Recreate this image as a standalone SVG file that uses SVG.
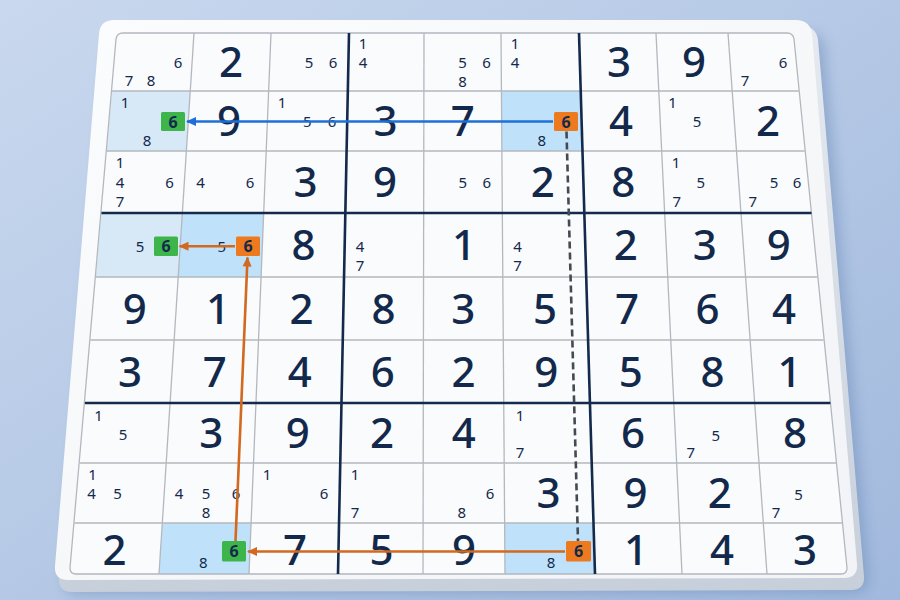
<svg xmlns="http://www.w3.org/2000/svg" width="900" height="600" viewBox="0 0 900 600">
<defs>
<linearGradient id="bg" x1="0" y1="0" x2="1" y2="1">
<stop offset="0" stop-color="#c9d8ee"/>
<stop offset="1" stop-color="#a1b9dd"/>
</linearGradient>
<linearGradient id="face" x1="0" y1="0" x2="0" y2="1">
<stop offset="0" stop-color="#e6eaf0"/>
<stop offset="1" stop-color="#c7cfda"/>
</linearGradient>
<linearGradient id="surf" x1="0" y1="0" x2="1" y2="1">
<stop offset="0" stop-color="#fbfcfd"/>
<stop offset="1" stop-color="#f1f3f6"/>
</linearGradient>
<filter id="blur" x="-10%" y="-10%" width="120%" height="120%"><feGaussianBlur stdDeviation="7"/></filter>
<marker id="ab" viewBox="0 0 10 10" refX="9" refY="5" markerWidth="11" markerHeight="10" markerUnits="userSpaceOnUse" orient="auto"><path d="M0,0.5 L10,5 L0,9.5 z" fill="#1e6fd8"/></marker>
<marker id="ao" viewBox="0 0 10 10" refX="9" refY="5" markerWidth="11" markerHeight="10" markerUnits="userSpaceOnUse" orient="auto"><path d="M0,0.5 L10,5 L0,9.5 z" fill="#d2691e"/></marker>
<style>
text{font-family:"Noto Sans","DejaVu Sans",sans-serif;fill:#13294b;text-anchor:middle}
.g{font-size:42px;font-weight:500}
.c{font-size:15px;font-weight:400}
.b{font-size:16px;font-weight:700}
.thin{stroke:#b3b8bf;stroke-width:1.3;fill:none}
.thick{stroke:#142a4c;stroke-width:2.6;fill:none}
.hl{fill:#bfe2fa}
.hl2{fill:#d7e8f7}
.gr{fill:#3db54a}
.or{fill:#ee7a1f}
.ob{stroke:#d2691e;stroke-width:2.6;fill:none}
</style>
</defs>
<rect x="0" y="0" width="900" height="600" fill="url(#bg)"/>
<g id="board">
<path d="M 124,34 L 808,34 Q 822,34 824,48 L 868,578 Q 869,592 855,592 L 78,594 Q 64,594 65,580 L 109,48 Q 110,34 124,34 Z" fill="#5f7fae" opacity="0.45" filter="url(#blur)"/>
<path d="M 118,26 L 802,26 Q 816,26 818,40 L 864,576 Q 865,590 851,590 L 72,592 Q 58,592 59,578 L 103,40 Q 104,26 118,26 Z" fill="url(#face)"/>
<path d="M 114,20 L 796,20 Q 810,20 812,34 L 857,564 Q 858,578 844,578 L 68,580 Q 54,580 55,566 L 99,34 Q 100,20 114,20 Z" fill="url(#surf)"/>
</g>
<g id="grid">
<path d="M 123,33 L 787,33 Q 793,33 794,39 L 847,568 Q 847,574 841,574 L 76,574 Q 70,574 70,568 L 116,39 Q 117,33 123,33 Z" fill="#fafbfc"/>
<polygon class="hl2" points="112,91 190.2,91 186.4,151 106.7,151"/>
<polygon class="hl" points="501.4,91 580.7,91 582.5,151 501.9,151"/>
<polygon class="hl2" points="101.4,213 182.4,213 178.2,277 95.8,277"/>
<polygon class="hl" points="182.4,213 263.7,213 261.1,277 178.2,277"/>
<polygon class="hl" points="162.3,523 251.1,523 249,574 159,574"/>
<polygon class="hl" points="504.6,523 593.5,523 595,574 505,574"/>
<line class="thin" x1="194" y1="33" x2="159" y2="574"/>
<line class="thin" x1="271" y1="33" x2="249" y2="574"/>
<line class="thin" x1="424" y1="33" x2="423" y2="574"/>
<line class="thin" x1="501" y1="33" x2="505" y2="574"/>
<line class="thin" x1="656" y1="33" x2="682" y2="574"/>
<line class="thin" x1="728" y1="33" x2="767" y2="574"/>
<line class="thin" x1="112" y1="91" x2="798.8" y2="91"/>
<line class="thin" x1="106.7" y1="151" x2="804.8" y2="151"/>
<line class="thin" x1="95.8" y1="277" x2="817.4" y2="277"/>
<line class="thin" x1="90.3" y1="340" x2="823.6" y2="340"/>
<line class="thin" x1="79.6" y1="463" x2="835.9" y2="463"/>
<line class="thin" x1="74.4" y1="523" x2="841.9" y2="523"/>
<path class="thin" d="M 123,33 L 787,33 Q 793,33 794,39 L 847,568 Q 847,574 841,574 L 76,574 Q 70,574 70,568 L 116,39 Q 117,33 123,33 Z"/>
<line class="thick" x1="349" y1="33" x2="338" y2="574"/>
<line class="thick" x1="579" y1="33" x2="595" y2="574"/>
<line class="thick" x1="101.4" y1="213" x2="811.5" y2="213"/>
<line class="thick" x1="84.9" y1="403" x2="830.4" y2="403"/>
</g>
<g id="r1c1"><text class="c" x="178" y="67.5">6</text><text class="c" x="129" y="86">7</text><text class="c" x="151" y="86">8</text></g>
<g id="r1c2"><text class="g" x="231" y="77">2</text></g>
<g id="r1c3"><text class="c" x="309" y="67.5">5</text><text class="c" x="333" y="67.5">6</text></g>
<g id="r1c4"><text class="c" x="363" y="48.5">1</text><text class="c" x="363" y="68">4</text></g>
<g id="r1c5"><text class="c" x="462.6" y="67.5">5</text><text class="c" x="486.6" y="67.5">6</text><text class="c" x="462.6" y="86.8">8</text></g>
<g id="r1c6"><text class="c" x="515" y="48.5">1</text><text class="c" x="515" y="68">4</text></g>
<g id="r1c7"><text class="g" x="619" y="77">3</text></g>
<g id="r1c8"><text class="g" x="694" y="77">9</text></g>
<g id="r1c9"><text class="c" x="783" y="67.5">6</text><text class="c" x="745" y="86">7</text></g>
<g id="r2c1"><text class="c" x="125" y="108">1</text><text class="c" x="147" y="145.5">8</text></g>
<g id="r2c2"><text class="g" x="229" y="136">9</text></g>
<g id="r2c3"><text class="c" x="282" y="108">1</text><text class="c" x="307.3" y="127">5</text><text class="c" x="332" y="127">6</text></g>
<g id="r2c4"><text class="g" x="385.5" y="136">3</text></g>
<g id="r2c5"><text class="g" x="462.8" y="136">7</text></g>
<g id="r2c6"><text class="c" x="541.7" y="145.5">8</text></g>
<g id="r2c7"><text class="g" x="620.9" y="136">4</text></g>
<g id="r2c8"><text class="c" x="672.5" y="108">1</text><text class="c" x="697" y="127">5</text></g>
<g id="r2c9"><text class="g" x="768" y="136">2</text></g>
<g id="r3c1"><text class="c" x="120" y="168.3">1</text><text class="c" x="120" y="187.5">4</text><text class="c" x="120" y="206.7">7</text><text class="c" x="169.5" y="187.5">6</text></g>
<g id="r3c2"><text class="c" x="200.5" y="187.5">4</text><text class="c" x="250" y="187.5">6</text></g>
<g id="r3c3"><text class="g" x="305.5" y="197">3</text></g>
<g id="r3c4"><text class="g" x="384.9" y="197">9</text></g>
<g id="r3c5"><text class="c" x="462.8" y="187.5">5</text><text class="c" x="486.8" y="187.5">6</text></g>
<g id="r3c6"><text class="g" x="542.8" y="197">2</text></g>
<g id="r3c7"><text class="g" x="623.3" y="197">8</text></g>
<g id="r3c8"><text class="c" x="676" y="168.3">1</text><text class="c" x="700.8" y="187.5">5</text><text class="c" x="676.8" y="206.7">7</text></g>
<g id="r3c9"><text class="c" x="774" y="187.5">5</text><text class="c" x="797" y="187.5">6</text><text class="c" x="752.7" y="206.7">7</text></g>
<g id="r4c1"><text class="c" x="140" y="252">5</text></g>
<g id="r4c2"><text class="c" x="221.7" y="252">5</text></g>
<g id="r4c3"><text class="g" x="303.6" y="260">8</text></g>
<g id="r4c4"><text class="c" x="360" y="251.5">4</text><text class="c" x="360" y="270.5">7</text></g>
<g id="r4c5"><text class="g" x="464" y="260">1</text></g>
<g id="r4c6"><text class="c" x="517.5" y="251.5">4</text><text class="c" x="517.5" y="270.5">7</text></g>
<g id="r4c7"><text class="g" x="625.8" y="260">2</text></g>
<g id="r4c8"><text class="g" x="704.8" y="260">3</text></g>
<g id="r4c9"><text class="g" x="778.8" y="260">9</text></g>
<g id="r5"><text class="g" x="134.7" y="323.5">9</text><text class="g" x="218" y="323.5">1</text><text class="g" x="301.6" y="323.5">2</text><text class="g" x="383.5" y="323.5">8</text><text class="g" x="463.3" y="323.5">3</text><text class="g" x="545" y="323.5">5</text><text class="g" x="627" y="323.5">7</text><text class="g" x="707.5" y="323.5">6</text><text class="g" x="784" y="323.5">4</text></g>
<g id="r6"><text class="g" x="129.9" y="386.5">3</text><text class="g" x="214.7" y="386.5">7</text><text class="g" x="299.7" y="386.5">4</text><text class="g" x="382.8" y="386.5">6</text><text class="g" x="463.5" y="386.5">2</text><text class="g" x="546.3" y="386.5">9</text><text class="g" x="630.7" y="386.5">5</text><text class="g" x="712.4" y="386.5">8</text><text class="g" x="789.6" y="386.5">1</text></g>
<g id="r7c1"><text class="c" x="98.5" y="420.5">1</text><text class="c" x="123" y="439.5">5</text></g>
<g id="r7c2"><text class="g" x="211.2" y="448">3</text></g>
<g id="r7c3"><text class="g" x="297.8" y="448">9</text></g>
<g id="r7c4"><text class="g" x="382.1" y="448">2</text></g>
<g id="r7c5"><text class="g" x="463.7" y="448">4</text></g>
<g id="r7c6"><text class="c" x="520" y="420.5">1</text><text class="c" x="520" y="458">7</text></g>
<g id="r7c7"><text class="g" x="633" y="448">6</text></g>
<g id="r7c8"><text class="c" x="715.7" y="440.5">5</text><text class="c" x="690.7" y="458">7</text></g>
<g id="r7c9"><text class="g" x="794.9" y="448">8</text></g>
<g id="r8c1"><text class="c" x="92.5" y="479.5">1</text><text class="c" x="91.5" y="498.8">4</text><text class="c" x="117.5" y="498.8">5</text></g>
<g id="r8c2"><text class="c" x="179" y="498.8">4</text><text class="c" x="206" y="498.8">5</text><text class="c" x="236" y="498.8">6</text><text class="c" x="206" y="517.8">8</text></g>
<g id="r8c3"><text class="c" x="267" y="479.5">1</text><text class="c" x="324" y="498.8">6</text></g>
<g id="r8c4"><text class="c" x="355" y="479.5">1</text><text class="c" x="355" y="517.5">7</text></g>
<g id="r8c5"><text class="c" x="490" y="498.8">6</text><text class="c" x="461.7" y="517.5">8</text></g>
<g id="r8c6"><text class="g" x="548.5" y="508">3</text></g>
<g id="r8c7"><text class="g" x="635.4" y="508">9</text></g>
<g id="r8c8"><text class="g" x="719.7" y="508">2</text></g>
<g id="r8c9"><text class="c" x="798.5" y="499.5">5</text><text class="c" x="776" y="518">7</text></g>
<g id="r9c1"><text class="g" x="114.5" y="565">2</text></g>
<g id="r9c2"><text class="c" x="203.3" y="568">8</text></g>
<g id="r9c3"><text class="g" x="295" y="565">7</text></g>
<g id="r9c4"><text class="g" x="381.5" y="565">5</text></g>
<g id="r9c5"><text class="g" x="463.9" y="565">9</text></g>
<g id="r9c6"><text class="c" x="551" y="568">8</text></g>
<g id="r9c7"><text class="g" x="636" y="565">1</text></g>
<g id="r9c8"><text class="g" x="722" y="565">4</text></g>
<g id="r9c9"><text class="g" x="805" y="565">3</text></g>
<g id="connectors">
<line x1="553" y1="121.5" x2="187" y2="121.5" stroke="#1e6fd8" stroke-width="2.6" marker-end="url(#ab)"/>
<line x1="566.5" y1="131.5" x2="578" y2="541" stroke="#444a52" stroke-width="2.6" stroke-dasharray="7 4"/>
<line class="ob" x1="565" y1="551.5" x2="248" y2="551.5" marker-end="url(#ao)"/>
<line class="ob" x1="235.5" y1="541" x2="247.5" y2="257.5" marker-end="url(#ao)"/>
<line class="ob" x1="235" y1="246.2" x2="179.5" y2="246.2" marker-end="url(#ao)"/>
</g>
<g id="n-r2c1"><rect class="gr" x="161" y="112" width="24" height="19" rx="1.5"/><text class="b" x="173" y="127.5">6</text></g>
<g id="n-r2c6"><rect class="or" x="554" y="112" width="24" height="19" rx="1.5"/><text class="b" x="566" y="127.5">6</text></g>
<g id="n-r4c1"><rect class="gr" x="154" y="236.5" width="24" height="19.5" rx="1.5"/><text class="b" x="166" y="252.2">6</text></g>
<g id="n-r4c2"><rect class="or" x="236" y="236.5" width="24" height="19.5" rx="1.5"/><text class="b" x="248" y="252.2">6</text></g>
<g id="n-r9c2"><rect class="gr" x="222" y="541" width="24" height="20.5" rx="1.5"/><text class="b" x="234" y="557">6</text></g>
<g id="n-r9c6"><rect class="or" x="566" y="541" width="25" height="20.5" rx="1.5"/><text class="b" x="578.5" y="557">6</text></g>
</svg>
